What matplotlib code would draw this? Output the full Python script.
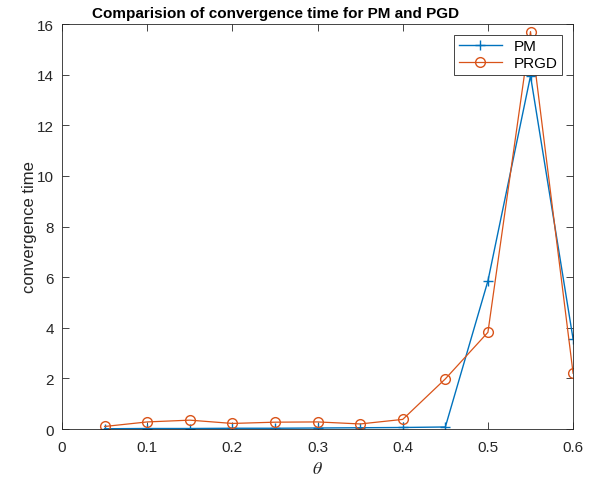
import matplotlib.pyplot as plt

theta = [0.05, 0.10, 0.15, 0.20, 0.25, 0.30, 0.35, 0.40, 0.45, 0.50, 0.55, 0.60]
pm = [0.01, 0.02, 0.02, 0.03, 0.03, 0.04, 0.05, 0.06, 0.08, 5.85, 13.95, 3.55]
prgd = [0.10, 0.28, 0.35, 0.22, 0.27, 0.28, 0.20, 0.38, 1.98, 3.82, 15.7, 2.2]

plt.rcParams['font.family'] = ['Liberation Sans', 'DejaVu Sans']
plt.rcParams['mathtext.fontset'] = 'stix'

fig = plt.figure(figsize=(6.02, 4.81), dpi=100)
ax = fig.add_axes([0.103, 0.106, 0.849, 0.842])

ax.plot(theta, pm, color='#0072BD', marker='+', markersize=7, linewidth=1, label='PM')
ax.plot(theta, prgd, color='#D95319', marker='o', markersize=7, markerfacecolor='none',
        linewidth=0.9, label='PRGD')

ax.set_xlim(0, 0.6)
ax.set_ylim(0, 16)
ax.set_xticks([0, 0.1, 0.2, 0.3, 0.4, 0.5, 0.6])
ax.set_xticklabels(['0', '0.1', '0.2', '0.3', '0.4', '0.5', '0.6'])
ax.set_yticks(range(0, 17, 2))
ax.tick_params(direction='in', top=True, right=True, labelsize=11, length=5, width=0.6,
               colors='#262626')
ax.tick_params(axis='x', pad=8)
ax.tick_params(axis='y', pad=6)
for s in ax.spines.values():
    s.set_linewidth(0.6)
    s.set_color('#262626')

ax.set_xlabel(r'$\theta$', fontsize=13, color='#262626', labelpad=4)
ax.set_ylabel('convergence time', fontsize=12, color='#262626', labelpad=0)
ax.set_title('Comparision of convergence time for PM and PGD', fontsize=11, fontweight='bold',
             pad=5, x=0.417)

leg = ax.legend(loc='upper right', fontsize=11, fancybox=False, framealpha=1,
                edgecolor='#262626', handlelength=2.8, borderaxespad=0.7,
                borderpad=0.3, labelspacing=0.2)
leg.get_frame().set_linewidth(0.6)

fig.savefig('out.png', dpi=100)
